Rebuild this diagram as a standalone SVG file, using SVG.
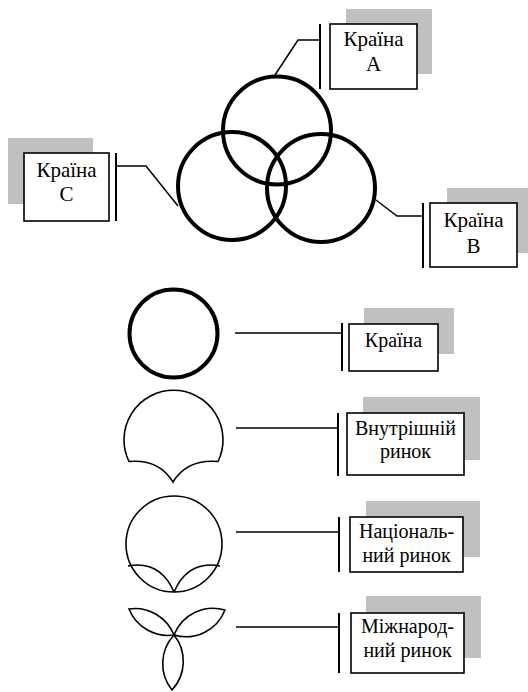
<svg xmlns="http://www.w3.org/2000/svg" width="528" height="692" viewBox="0 0 528 692">
<style>
.sh{fill:#c0c0c0;stroke:none}
.bx{fill:#fff;stroke:#000;stroke-width:1.6}
.bar{stroke:#000;stroke-width:2;fill:none}
.ln{stroke:#000;stroke-width:1.5;fill:none}
.thick{fill:none;stroke:#000;stroke-width:4}
.thin{fill:none;stroke:#000;stroke-width:1.6}
text{font-family:"Liberation Serif","Times New Roman",serif;font-size:20px;fill:#000;text-anchor:middle}
.big{font-size:21px}
</style>
<rect width="528" height="692" fill="#fff"/>
<g id="connectors">
<polyline class="ln" points="320,40 298,40 275,75"/>
<polyline class="ln" points="116,166 146,166 178,206"/>
<polyline class="ln" points="423,216 397,216 376,200"/>
<line class="ln" x1="235" y1="333" x2="342" y2="333"/>
<line class="ln" x1="236" y1="428" x2="338" y2="428"/>
<line class="ln" x1="236" y1="532" x2="339" y2="532"/>
<line class="ln" x1="236" y1="627" x2="339" y2="627"/>
</g>
<g id="circles">
<circle class="thick" cx="277" cy="130.5" r="54"/>
<circle class="thick" cx="232" cy="186" r="54"/>
<circle class="thick" cx="321" cy="188" r="54"/>
</g>
<g id="boxA">
<rect class="sh" x="346" y="9" width="86" height="65"/>
<rect class="bx" x="330" y="24" width="87" height="65"/>
<line class="bar" x1="320" y1="24" x2="320" y2="89"/>
<text class="big" x="373.5" y="46">Країна</text>
<text class="big" x="373.5" y="71">A</text>
</g>
<g id="boxC">
<rect class="sh" x="8" y="138" width="85" height="66"/>
<rect class="bx" x="24" y="153" width="85" height="68"/>
<line class="bar" x1="116" y1="153" x2="116" y2="221"/>
<text class="big" x="66.5" y="177">Країна</text>
<text class="big" x="66.5" y="201">C</text>
</g>
<g id="boxB">
<rect class="sh" x="447" y="188" width="81" height="65"/>
<rect class="bx" x="430" y="203" width="87" height="64"/>
<line class="bar" x1="423" y1="203" x2="423" y2="268"/>
<text class="big" x="473.5" y="227">Країна</text>
<text class="big" x="473.5" y="253">B</text>
</g>
<g id="country">
<circle class="thick" cx="173.5" cy="333.5" r="44"/>
<rect class="sh" x="364" y="308" width="90" height="46"/>
<rect class="bx" x="349" y="324" width="89" height="47"/>
<line class="bar" x1="342" y1="323" x2="342" y2="371"/>
<text x="393.5" y="347">Країна</text>
</g>
<g id="domestic">
<path class="thin" d="M129,461.5 A49.5,49.5 0 1 1 218,461.5 Q187,459 173,482 Q159,459 129,461.5 Z"/>
<rect class="sh" x="363" y="397" width="117" height="63"/>
<rect class="bx" x="347" y="413" width="117" height="62"/>
<line class="bar" x1="338" y1="413" x2="338" y2="476"/>
<text x="405.5" y="435">Внутрішній</text>
<text x="405.5" y="458">ринок</text>
</g>
<g id="national">
<circle class="thin" cx="174" cy="544" r="48"/>
<path class="thin" d="M128,566 Q160,560 174,592 M220,566 Q188,560 174,592"/>
<rect class="sh" x="366" y="501" width="114" height="56"/>
<rect class="bx" x="350" y="517" width="113" height="55"/>
<line class="bar" x1="339" y1="517" x2="339" y2="572"/>
<text x="406.5" y="538">Національ-</text>
<text x="406.5" y="562">ний ринок</text>
</g>
<g id="international">
<path class="thin" d="M174,635 A42,42 0 0 0 129,609 A42,42 0 0 0 174,635 Z"/>
<path class="thin" d="M174,635 A42,42 0 0 1 225,610 A42,42 0 0 1 174,635 Z"/>
<path class="thin" d="M174,635 A42,42 0 0 0 172,690 A42,42 0 0 0 174,635 Z"/>
<rect class="sh" x="366" y="596" width="115" height="62"/>
<rect class="bx" x="351" y="613" width="113" height="60"/>
<line class="bar" x1="339" y1="613" x2="339" y2="673"/>
<text x="407.5" y="633">Міжнарод-</text>
<text x="407.5" y="657">ний ринок</text>
</g>
</svg>
